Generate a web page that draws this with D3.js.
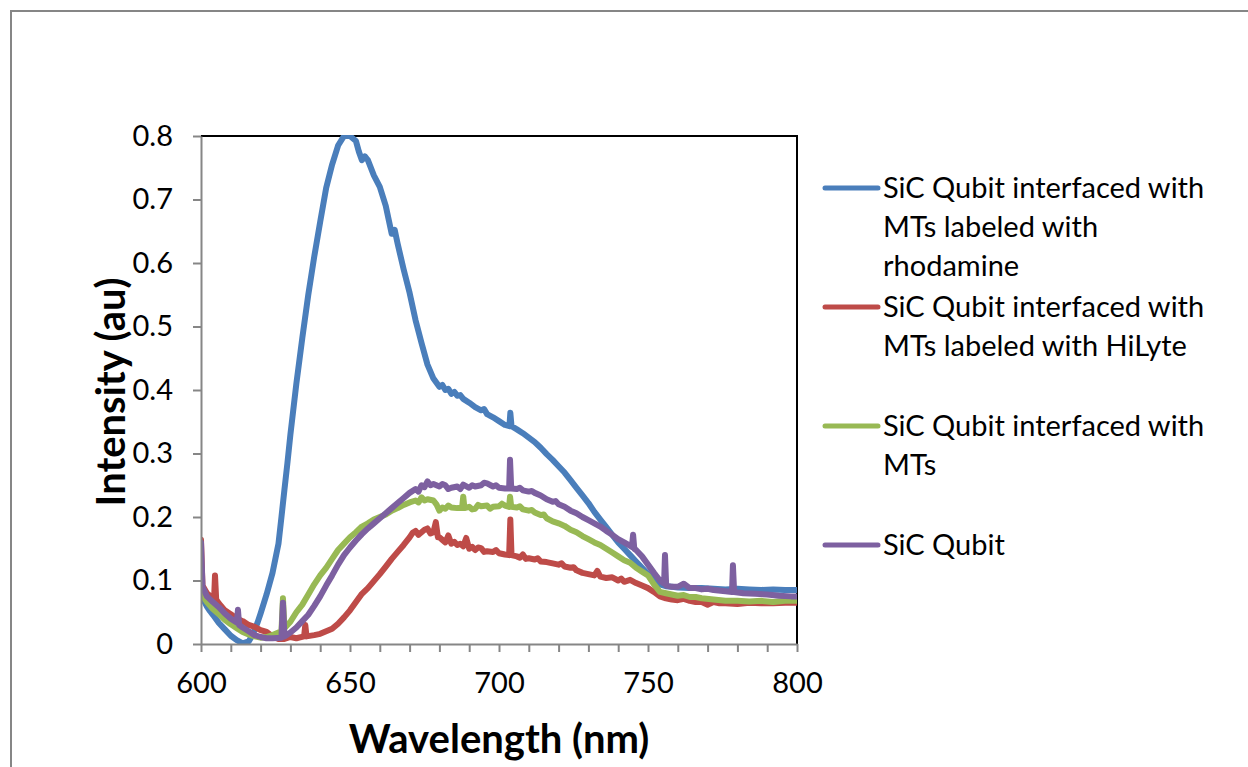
<!DOCTYPE html>
<html>
<head>
<meta charset="UTF-8">
<title>SiC Qubit spectra</title>
<script src="https://d3js.org/d3.v7.min.js"></script>
<style>
  body { margin: 0; background: #fff; }
  .tick text { font-family: Lato, "Open Sans", sans-serif; font-size: 29px; fill: #000; }
  .axis path, .axis line { stroke: #868686; stroke-width: 2px; }
  .title { font-family: Lato, "Open Sans", sans-serif; font-weight: bold; font-size: 40px; }
  .legend text { font-family: Lato, "Open Sans", sans-serif; font-size: 29px; }
</style>
</head>
<body>
<svg id="chart" width="1248" height="767"></svg>
<script>
// series as [wavelength nm, intensity au]
const rhodamine = [
  [600,0.075],[601,0.068],[602,0.059],[603,0.052],[604,0.046],[606,0.033],[608,0.023],[610,0.013],[612,0.006],[614,0.001],
  [616,0.004],[617,0.012],[618,0.022],[619,0.034],[620,0.048],[622,0.078],[624,0.112],[626,0.158],[627,0.2],[628,0.243],
  [629,0.285],[630,0.33],[632,0.41],[634,0.482],[636,0.55],[638,0.61],[640,0.665],[642,0.718],[644,0.755],[646,0.785],
  [648,0.8],[650,0.8],[652,0.792],[653,0.775],[654,0.762],[655,0.768],[656,0.762],[658,0.738],[660,0.72],[662,0.69],
  [663,0.668],[664,0.646],[665,0.652],[666,0.63],[668,0.59],[670,0.553],[672,0.51],[674,0.474],[676,0.44],[678,0.418],
  [680,0.405],[681,0.408],[682,0.4],[683,0.402],[684,0.394],[685,0.397],[686,0.391],[687,0.392],[688,0.386],[690,0.38],
  [692,0.373],[694,0.368],[695,0.37],[696,0.362],[698,0.357],
  [700,0.351],[702,0.345],[703.5,0.343],[703.8,0.364],[704.2,0.343],[706,0.338],[708,0.332],[710,0.325],[712,0.318],[714,0.309],
  [716,0.299],[718,0.29],[720,0.28],[722,0.27],[724,0.258],[726,0.246],[728,0.234],[730,0.222],[732,0.208],[734,0.196],
  [736,0.184],[738,0.172],[740,0.16],[742,0.15],[744,0.14],[746,0.13],[748,0.12],[750,0.11],[752,0.1],[754,0.094],
  [756,0.091],[758,0.09],[760,0.089],[764,0.088],[768,0.088],[772,0.087],[776,0.086],[780,0.087],[784,0.086],[788,0.085],
  [792,0.086],[796,0.085],[800,0.085]
];
const hilyte = [
  [600,0.164],[600.5,0.092],[602,0.08],[603,0.076],[604.4,0.072],[604.7,0.108],[605.1,0.07],[606,0.064],[608,0.053],[610,0.047],
  [612,0.04],[614,0.036],[616,0.03],[618,0.027],[620,0.022],[622,0.019],[624,0.012],[626,0.008],[628,0.008],[630,0.011],
  [632,0.009],[634.6,0.012],[635,0.03],[635.4,0.012],[638,0.014],[640,0.016],[642,0.02],[644,0.024],[646,0.032],[648,0.042],
  [650,0.053],[652,0.066],[654,0.079],[656,0.088],[658,0.099],[660,0.11],[662,0.122],[664,0.134],[666,0.145],[668,0.156],
  [670,0.168],[671,0.175],[672,0.178],[673,0.172],[674,0.176],[675,0.18],[676,0.182],[677,0.174],[678,0.176],[678.8,0.192],
  [679.5,0.168],[680,0.168],[681,0.164],[682,0.16],[683,0.171],[684,0.158],[685,0.161],[686,0.156],[687,0.158],[688,0.154],
  [689,0.167],[690,0.15],[691,0.153],[692,0.148],[693,0.152],[694,0.151],[695,0.145],[696,0.146],[698,0.145],[699,0.148],[700,0.143],
  [702,0.141],[703.4,0.14],[703.8,0.196],[704.2,0.14],[706,0.138],[707,0.136],[708,0.141],[709,0.134],[710,0.135],[712,0.133],[713,0.135],[714,0.13],[716,0.129],
  [718,0.127],[720,0.125],[721,0.127],[722,0.122],[724,0.12],[725,0.121],[726,0.116],[728,0.112],[730,0.11],[732,0.108],[733,0.115],[734,0.106],
  [736,0.104],[738,0.105],[740,0.1],[741,0.103],[742,0.098],[744,0.101],[746,0.096],[748,0.092],[750,0.088],[752,0.082],[754,0.075],
  [756,0.072],[758,0.07],[760,0.069],[762,0.071],[764,0.068],[766,0.066],[768,0.066],[770,0.062],[772,0.066],[774,0.064],[776,0.064],[780,0.063],[784,0.065],
  [788,0.064],[792,0.064],[796,0.065],[800,0.065]
];
const mts = [
  [600,0.08],[602,0.066],[604,0.055],[606,0.047],[608,0.038],[610,0.031],[612,0.025],[614,0.019],[616,0.015],[618,0.012],
  [620,0.01],[622,0.011],[624,0.014],[627,0.02],[627.5,0.072],[628,0.025],[630,0.035],[632,0.05],[634,0.062],[636,0.078],
  [638,0.094],[640,0.108],[642,0.12],[644,0.134],[646,0.148],[648,0.158],[650,0.168],[652,0.176],[654,0.185],[656,0.19],
  [658,0.196],[660,0.2],[662,0.204],[664,0.21],[666,0.214],[668,0.219],[670,0.223],[672,0.226],[673,0.223],[674,0.231],[675,0.226],[676,0.228],
  [678,0.226],[679,0.22],[680,0.21],[681,0.215],[682,0.213],[683,0.218],[684,0.215],[686,0.214],[687.6,0.214],[688,0.232],[688.4,0.214],[690,0.216],[691,0.212],[692,0.213],
  [693,0.219],[694,0.217],[696,0.218],[697,0.213],[698,0.216],[700,0.217],[701,0.221],[702,0.218],[703.4,0.216],[703.7,0.232],[704.1,0.216],[706,0.215],[707,0.217],[708,0.212],
  [710,0.21],[711,0.211],[712,0.207],[714,0.203],[715,0.204],[716,0.198],[718,0.193],[720,0.19],[722,0.186],[724,0.18],[726,0.176],[728,0.17],
  [730,0.165],[732,0.16],[734,0.156],[736,0.15],[738,0.144],[740,0.138],[742,0.132],[744,0.128],[746,0.12],[748,0.114],
  [750,0.108],[752,0.094],[754,0.082],[756,0.08],[758,0.078],[760,0.076],[762,0.077],[764,0.074],[766,0.074],[768,0.072],[772,0.07],[776,0.068],
  [780,0.068],[784,0.067],[788,0.068],[792,0.066],[796,0.068],[800,0.068]
];
const qubit = [
  [600,0.16],[600.5,0.09],[602,0.075],[604,0.066],[606,0.058],[608,0.048],[610,0.04],[612,0.034],[612.4,0.054],[612.8,0.03],
  [614,0.026],[616,0.02],[618,0.014],[620,0.011],[622,0.009],[624,0.009],[627,0.01],[627.5,0.065],[628,0.012],[630,0.018],
  [632,0.026],[634,0.036],[636,0.046],[638,0.06],[640,0.075],[642,0.092],[644,0.108],[646,0.125],[648,0.14],[650,0.152],
  [652,0.163],[654,0.173],[656,0.182],[658,0.19],[660,0.198],[662,0.206],[664,0.214],[666,0.222],[668,0.23],[670,0.238],
  [672,0.244],[673,0.24],[674,0.25],[675,0.247],[676,0.256],[677,0.25],[678,0.252],[680,0.248],[681,0.252],[682,0.25],[683,0.244],[684,0.246],[686,0.248],[687,0.244],[688,0.251],[690,0.246],
  [691,0.25],[692,0.248],[694,0.25],[695,0.254],[696,0.253],[698,0.248],[699,0.25],[700,0.246],[702,0.245],[703.4,0.245],[703.7,0.29],[704.1,0.245],[706,0.244],
  [707,0.246],[708,0.242],[710,0.24],[711,0.241],[712,0.238],[714,0.234],[716,0.228],[718,0.224],[719,0.225],[720,0.22],[722,0.216],[724,0.21],[726,0.206],
  [728,0.2],[730,0.195],[732,0.19],[734,0.185],[736,0.178],[738,0.172],[740,0.165],[742,0.16],[744.6,0.153],[745,0.172],
  [745.4,0.15],[746,0.148],[748,0.138],[750,0.125],[752,0.112],[754,0.1],[755.4,0.095],[755.7,0.14],[756.1,0.092],[758,0.09],
  [760,0.09],[762,0.095],[764,0.088],[766,0.088],[768,0.086],[770,0.087],[772,0.085],[776,0.083],[778.2,0.082],[778.5,0.124],[778.9,0.082],[782,0.08],
  [786,0.079],[790,0.078],[794,0.076],[798,0.075],[800,0.075]
];

const seriesNames = [
  ["SiC Qubit interfaced with", "MTs labeled with", "rhodamine"],
  ["SiC Qubit interfaced with", "MTs labeled with HiLyte"],
  ["SiC Qubit interfaced with", "MTs"],
  ["SiC Qubit"]
];
const seriesColors = ["#4a7ebb", "#be4b48", "#98b954", "#7d60a0"];
const seriesData = [rhodamine, hilyte, mts, qubit];

const yTicks = [0, 0.1, 0.2, 0.3, 0.4, 0.5, 0.6, 0.7, 0.8];
const xTicks = d3.range(600, 801, 10);
const xLabels = [600, 650, 700, 750, 800];

const svg = d3.select("#chart");
const margin = {left: 201, top: 136, right: 797, bottom: 644};

// outer chart border
svg.append("rect")
  .attr("x", 11).attr("y", 11)
  .attr("width", 1400).attr("height", 1000)
  .attr("fill", "none").attr("stroke", "#868686").attr("stroke-width", 2);

const x = d3.scaleLinear().domain([600, 800]).range([margin.left, margin.right]);
const y = d3.scaleLinear().domain([0, 0.8]).range([margin.bottom, margin.top]);

svg.append("defs").append("clipPath").attr("id", "plotclip")
  .append("rect")
  .attr("x", margin.left).attr("y", margin.top - 1)
  .attr("width", margin.right - margin.left)
  .attr("height", margin.bottom - margin.top + 2);

// top and right plot border
svg.append("path")
  .attr("d", `M${margin.left},${margin.top}H${margin.right}V${margin.bottom}`)
  .attr("fill", "none").attr("stroke", "#000").attr("stroke-width", 2);

const line = d3.line().x(d => x(d[0])).y(d => y(d[1]));

const lines = svg.append("g").attr("clip-path", "url(#plotclip)");
seriesData.forEach((s, i) => {
  lines.append("path")
    .datum(s)
    .attr("d", line)
    .attr("fill", "none")
    .attr("stroke", seriesColors[i])
    .attr("stroke-width", 6)
    .attr("stroke-linejoin", "round")
    .attr("stroke-linecap", "round");
});

// axes
svg.append("g")
  .attr("class", "axis")
  .attr("transform", `translate(${margin.left},0)`)
  .call(d3.axisLeft(y).tickValues(yTicks).tickSize(8).tickSizeOuter(0).tickPadding(20)
    .tickFormat(d => d === 0 ? "0" : d.toFixed(1)));

svg.append("g")
  .attr("class", "axis")
  .attr("transform", `translate(0,${margin.bottom})`)
  .call(d3.axisBottom(x).tickValues(xTicks).tickSize(8).tickSizeOuter(0).tickPadding(20)
    .tickFormat(d => xLabels.includes(d) ? d : ""));

svg.append("text")
  .attr("class", "title")
  .attr("x", 499).attr("y", 753)
  .attr("text-anchor", "middle")
  .text("Wavelength (nm)");

svg.append("text")
  .attr("class", "title")
  .attr("transform", "translate(125,392) rotate(-90)")
  .attr("text-anchor", "middle")
  .text("Intensity (au)");

// legend
const legendY = [188, 307, 426, 545];
const legend = svg.append("g").attr("class", "legend");
seriesNames.forEach((lines, i) => {
  legend.append("line")
    .attr("x1", 825).attr("x2", 878)
    .attr("y1", legendY[i]).attr("y2", legendY[i])
    .attr("stroke", seriesColors[i]).attr("stroke-width", 5)
    .attr("stroke-linecap", "round");
  const t = legend.append("text").attr("x", 883).attr("y", legendY[i] + 10);
  lines.forEach((l, j) => {
    t.append("tspan").attr("x", 883).attr("dy", j === 0 ? 0 : 39).text(l);
  });
});
</script>
</body>
</html>
